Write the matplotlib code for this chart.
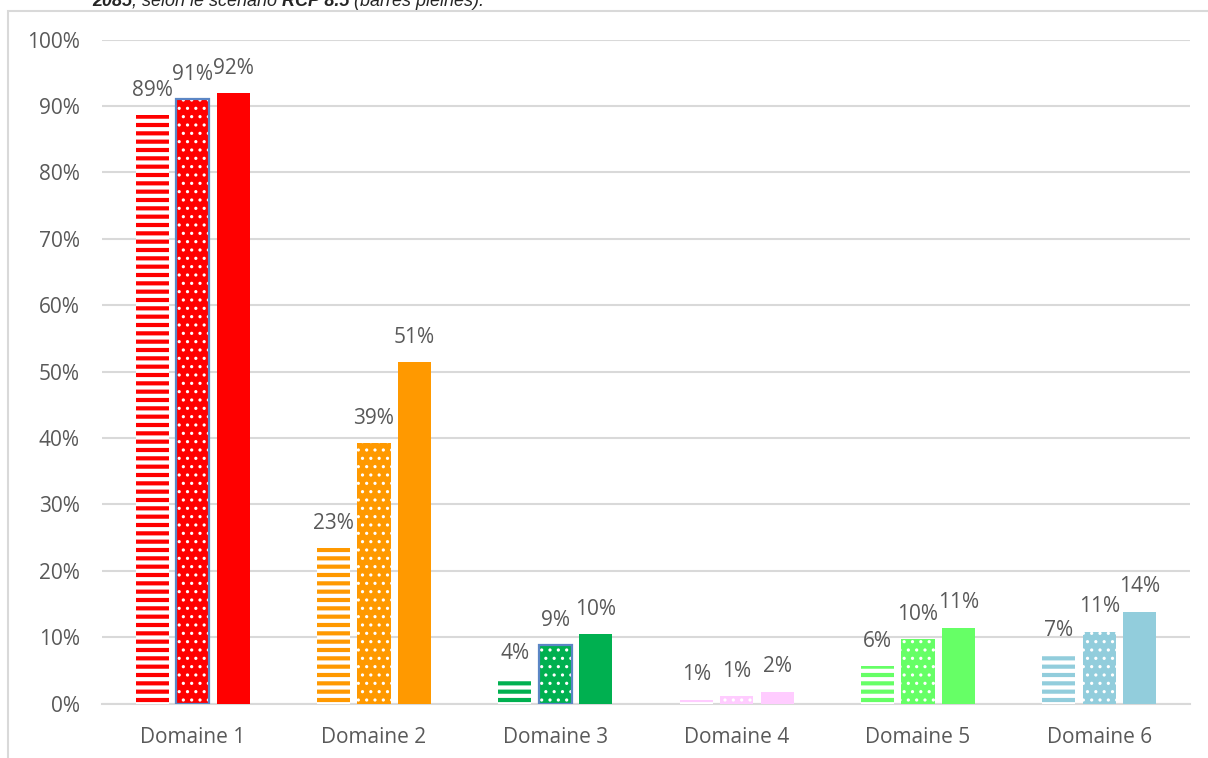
import matplotlib
matplotlib.use("Agg")
import matplotlib.pyplot as plt
from matplotlib.patches import Rectangle
from matplotlib.ticker import PercentFormatter

# Share of each domain (%) for three horizons; solid bars = 2085 under RCP 8.5
domains = ["Domaine 1", "Domaine 2", "Domaine 3", "Domaine 4", "Domaine 5", "Domaine 6"]
values_near = [88.6, 23.4, 3.7, 0.6, 5.6, 7.3]     # horizontal stripes
values_mid = [91.0, 39.2, 8.8, 1.1, 9.7, 10.8]     # dotted
values_2085 = [91.9, 51.4, 10.4, 1.8, 11.4, 13.8]  # solid
colors = ["#ff0000", "#ff9900", "#00b050", "#ffccff", "#66ff66", "#92cddc"]
dotted_outline = ["#5b86c5", None, "#5b86c5", None, None, None]
y_ticks = [0, 10, 20, 30, 40, 50, 60, 70, 80, 90, 100]

W, H = 1208, 758
plt.rcParams["font.family"] = ["Open Sans", "DejaVu Sans"]
text_color = "#595959"
grid_color = "#d9d9d9"

fig = plt.figure(figsize=(W / 100, H / 100), dpi=100)
fig.patch.set_facecolor("white")

# chart frame
fig.add_artist(Rectangle((8 / W, -0.05), 1.1, 1 - 11 / H + 0.05,
                         transform=fig.transFigure, fill=False,
                         edgecolor=grid_color, linewidth=1.5))

# caption line, running off the top of the canvas
cap_y = 1 - 6 / H
cap_parts = [("2085", "bold"), (", selon le scénario ", "normal"),
             ("RCP 8.5", "bold"), (" (barres pleines).", "normal")]
fig.canvas.draw()
r = fig.canvas.get_renderer()
x = 92
for part, weight in cap_parts:
    t = fig.text(x / W, cap_y, part, fontfamily="Liberation Sans", fontsize=13,
                 fontweight=weight, fontstyle="italic", color="#262626",
                 va="baseline")
    x = t.get_window_extent(r).x1

ax = fig.add_axes([102 / W, 54.5 / H, (1190 - 102) / W, 664 / H])
ax.set_xlim(-0.5, len(domains) - 0.5)
ax.set_ylim(0, 100)

pitch = 0.223
width = 0.182
xs = list(range(len(domains)))

with plt.rc_context({"hatch.linewidth": 3.0}):
    ax.bar([x - pitch for x in xs], values_near, width=width, color=colors,
           edgecolor="white", linewidth=0, hatch="--", zorder=3)
with plt.rc_context({"hatch.linewidth": 1.1}):
    ax.bar(xs, values_mid, width=width, color=colors,
           edgecolor="white", linewidth=0, hatch="..", zorder=3)
ax.bar([x + pitch for x in xs], values_2085, width=width, color=colors,
       linewidth=0, zorder=3)

for i, ec in enumerate(dotted_outline):
    if ec:
        ax.bar(xs[i], values_mid[i], width=width, fill=False, edgecolor=ec,
               linewidth=1.6, zorder=4)

for off, vals in ((-pitch, values_near), (0, values_mid), (pitch, values_2085)):
    for x, v in zip(xs, vals):
        ax.annotate(f"{v:.0f}%", (x + off, v), xytext=(0, 14),
                    textcoords="offset points", ha="center", va="baseline",
                    fontsize=15, color=text_color, zorder=5)

ax.set_xticks(xs)
ax.set_xticklabels(domains)
ax.set_yticks(y_ticks)
ax.yaxis.set_major_formatter(PercentFormatter(decimals=0))
ax.tick_params(axis="both", length=0, labelsize=15, labelcolor=text_color)
ax.tick_params(axis="y", pad=16)
ax.tick_params(axis="x", pad=17)
ax.grid(axis="y", color=grid_color, linewidth=1.5, zorder=0)
ax.set_axisbelow(True)
for s in ("top", "right", "left"):
    ax.spines[s].set_visible(False)
ax.spines["bottom"].set_color(grid_color)
ax.spines["bottom"].set_linewidth(1.5)
ax.set_facecolor("none")

fig.savefig("out.png", dpi=100)
